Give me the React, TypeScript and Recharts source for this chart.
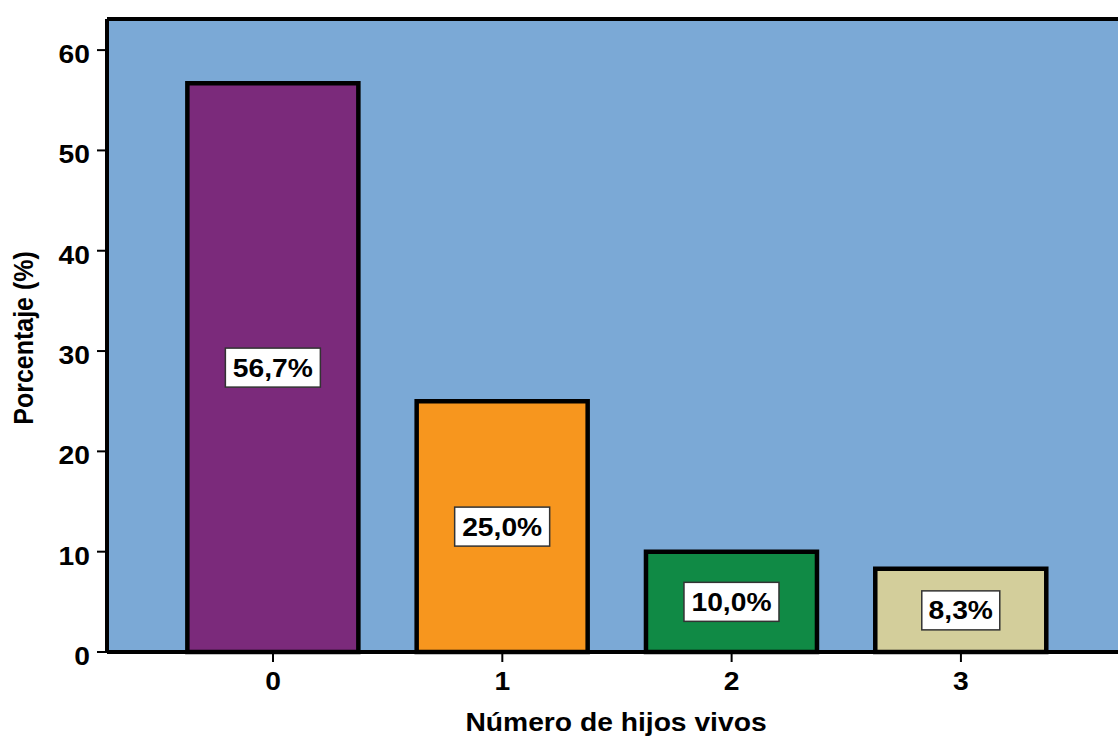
import React from 'react';
import { BarChart, Bar, XAxis, YAxis, CartesianGrid, Cell, LabelList, ReferenceLine, Label } from 'recharts';

const categories = [0, 1, 2, 3];
const percentages = [56.7, 25.0, 10.0, 8.3];
const valueLabels = ['56,7%', '25,0%', '10,0%', '8,3%'];
const barColors = ['#7B2A7B', '#F7961E', '#108A45', '#D3CE9B'];
const yTicks = [0, 10, 20, 30, 40, 50, 60];

const data = categories.map((c, i) => ({ hijos: c, pct: percentages[i], label: valueLabels[i] }));

const FONT = '"Liberation Sans", Arial, sans-serif';
const STRETCH = 'scale(1.13,1)';
const Y_MAX = 63.1;

// the source image is stretched a bit horizontally, so all text gets a scaleX
function XTick(props: any) {
  const { x, payload } = props;
  return (
    <g transform={`translate(${x},690)`}>
      <text transform={STRETCH} textAnchor="middle" fontFamily={FONT} fontWeight="bold" fontSize={25} fill="#000">
        {payload.value}
      </text>
    </g>
  );
}

function YTick(props: any) {
  const { y, payload } = props;
  return (
    <g transform={`translate(90,${y + 13})`}>
      <text transform={STRETCH} textAnchor="end" fontFamily={FONT} fontWeight="bold" fontSize={25} fill="#000">
        {payload.value}
      </text>
    </g>
  );
}

function BoxLabel(props: any) {
  const { x, y, width, height, value } = props;
  const cx = x + width / 2;
  const cy = y + height / 2;
  const w = String(value).length >= 5 ? 95 : 78;
  const h = 39;
  return (
    <g>
      <rect x={cx - w / 2} y={cy - h / 2} width={w} height={h} fill="#fff" stroke="#333" strokeWidth={1.5} />
      <g transform={`translate(${cx},${cy + 9})`}>
        <text transform={STRETCH} textAnchor="middle" fontFamily={FONT} fontWeight="bold" fontSize={25} fill="#000">
          {value}
        </text>
      </g>
    </g>
  );
}

const XTitle = () => (
  <g transform="translate(616,731)">
    <text transform={STRETCH} textAnchor="middle" fontFamily={FONT} fontWeight="bold" fontSize={25} fill="#000">
      Número de hijos vivos
    </text>
  </g>
);

const YTitle = () => (
  <text
    transform={`translate(33,338) ${STRETCH} rotate(-90)`}
    textAnchor="middle"
    fontFamily={FONT}
    fontWeight="bold"
    fontSize={25}
    fill="#000"
  >
    Porcentaje (%)
  </text>
);

export default function App() {
  return (
    <div style={{ position: 'absolute', left: 0, top: 0, width: 1118, height: 736, overflow: 'hidden', background: '#fff' }}>
      <BarChart
        width={1118}
        height={736}
        data={data}
        margin={{ top: 19, right: 0, bottom: 0, left: 0 }}
      >
        <CartesianGrid horizontal={false} vertical={false} fill="#7BA9D6" />
        <XAxis
          dataKey="hijos"
          type="number"
          domain={[-0.724, 3.685]}
          ticks={categories}
          allowDataOverflow
          height={84}
          axisLine={{ stroke: '#000', strokeWidth: 4 }}
          tickLine={{ stroke: '#000', strokeWidth: 2 }}
          tickSize={10}
          tick={<XTick />}
        >
          <Label content={<XTitle />} />
        </XAxis>
        <YAxis
          type="number"
          domain={[0, Y_MAX]}
          ticks={yTicks}
          width={107}
          axisLine={{ stroke: '#000', strokeWidth: 4 }}
          tickLine={{ stroke: '#000', strokeWidth: 2 }}
          tickSize={10}
          tick={<YTick />}
        >
          <Label content={<YTitle />} />
        </YAxis>
        <ReferenceLine y={Y_MAX} stroke="#000" strokeWidth={4} />
        <Bar dataKey="pct" barSize={171} stroke="#000" strokeWidth={4.5} isAnimationActive={false}>
          {data.map((d, i) => (
            <Cell key={d.hijos} fill={barColors[i]} />
          ))}
          <LabelList dataKey="label" content={BoxLabel} />
        </Bar>
      </BarChart>
    </div>
  );
}
